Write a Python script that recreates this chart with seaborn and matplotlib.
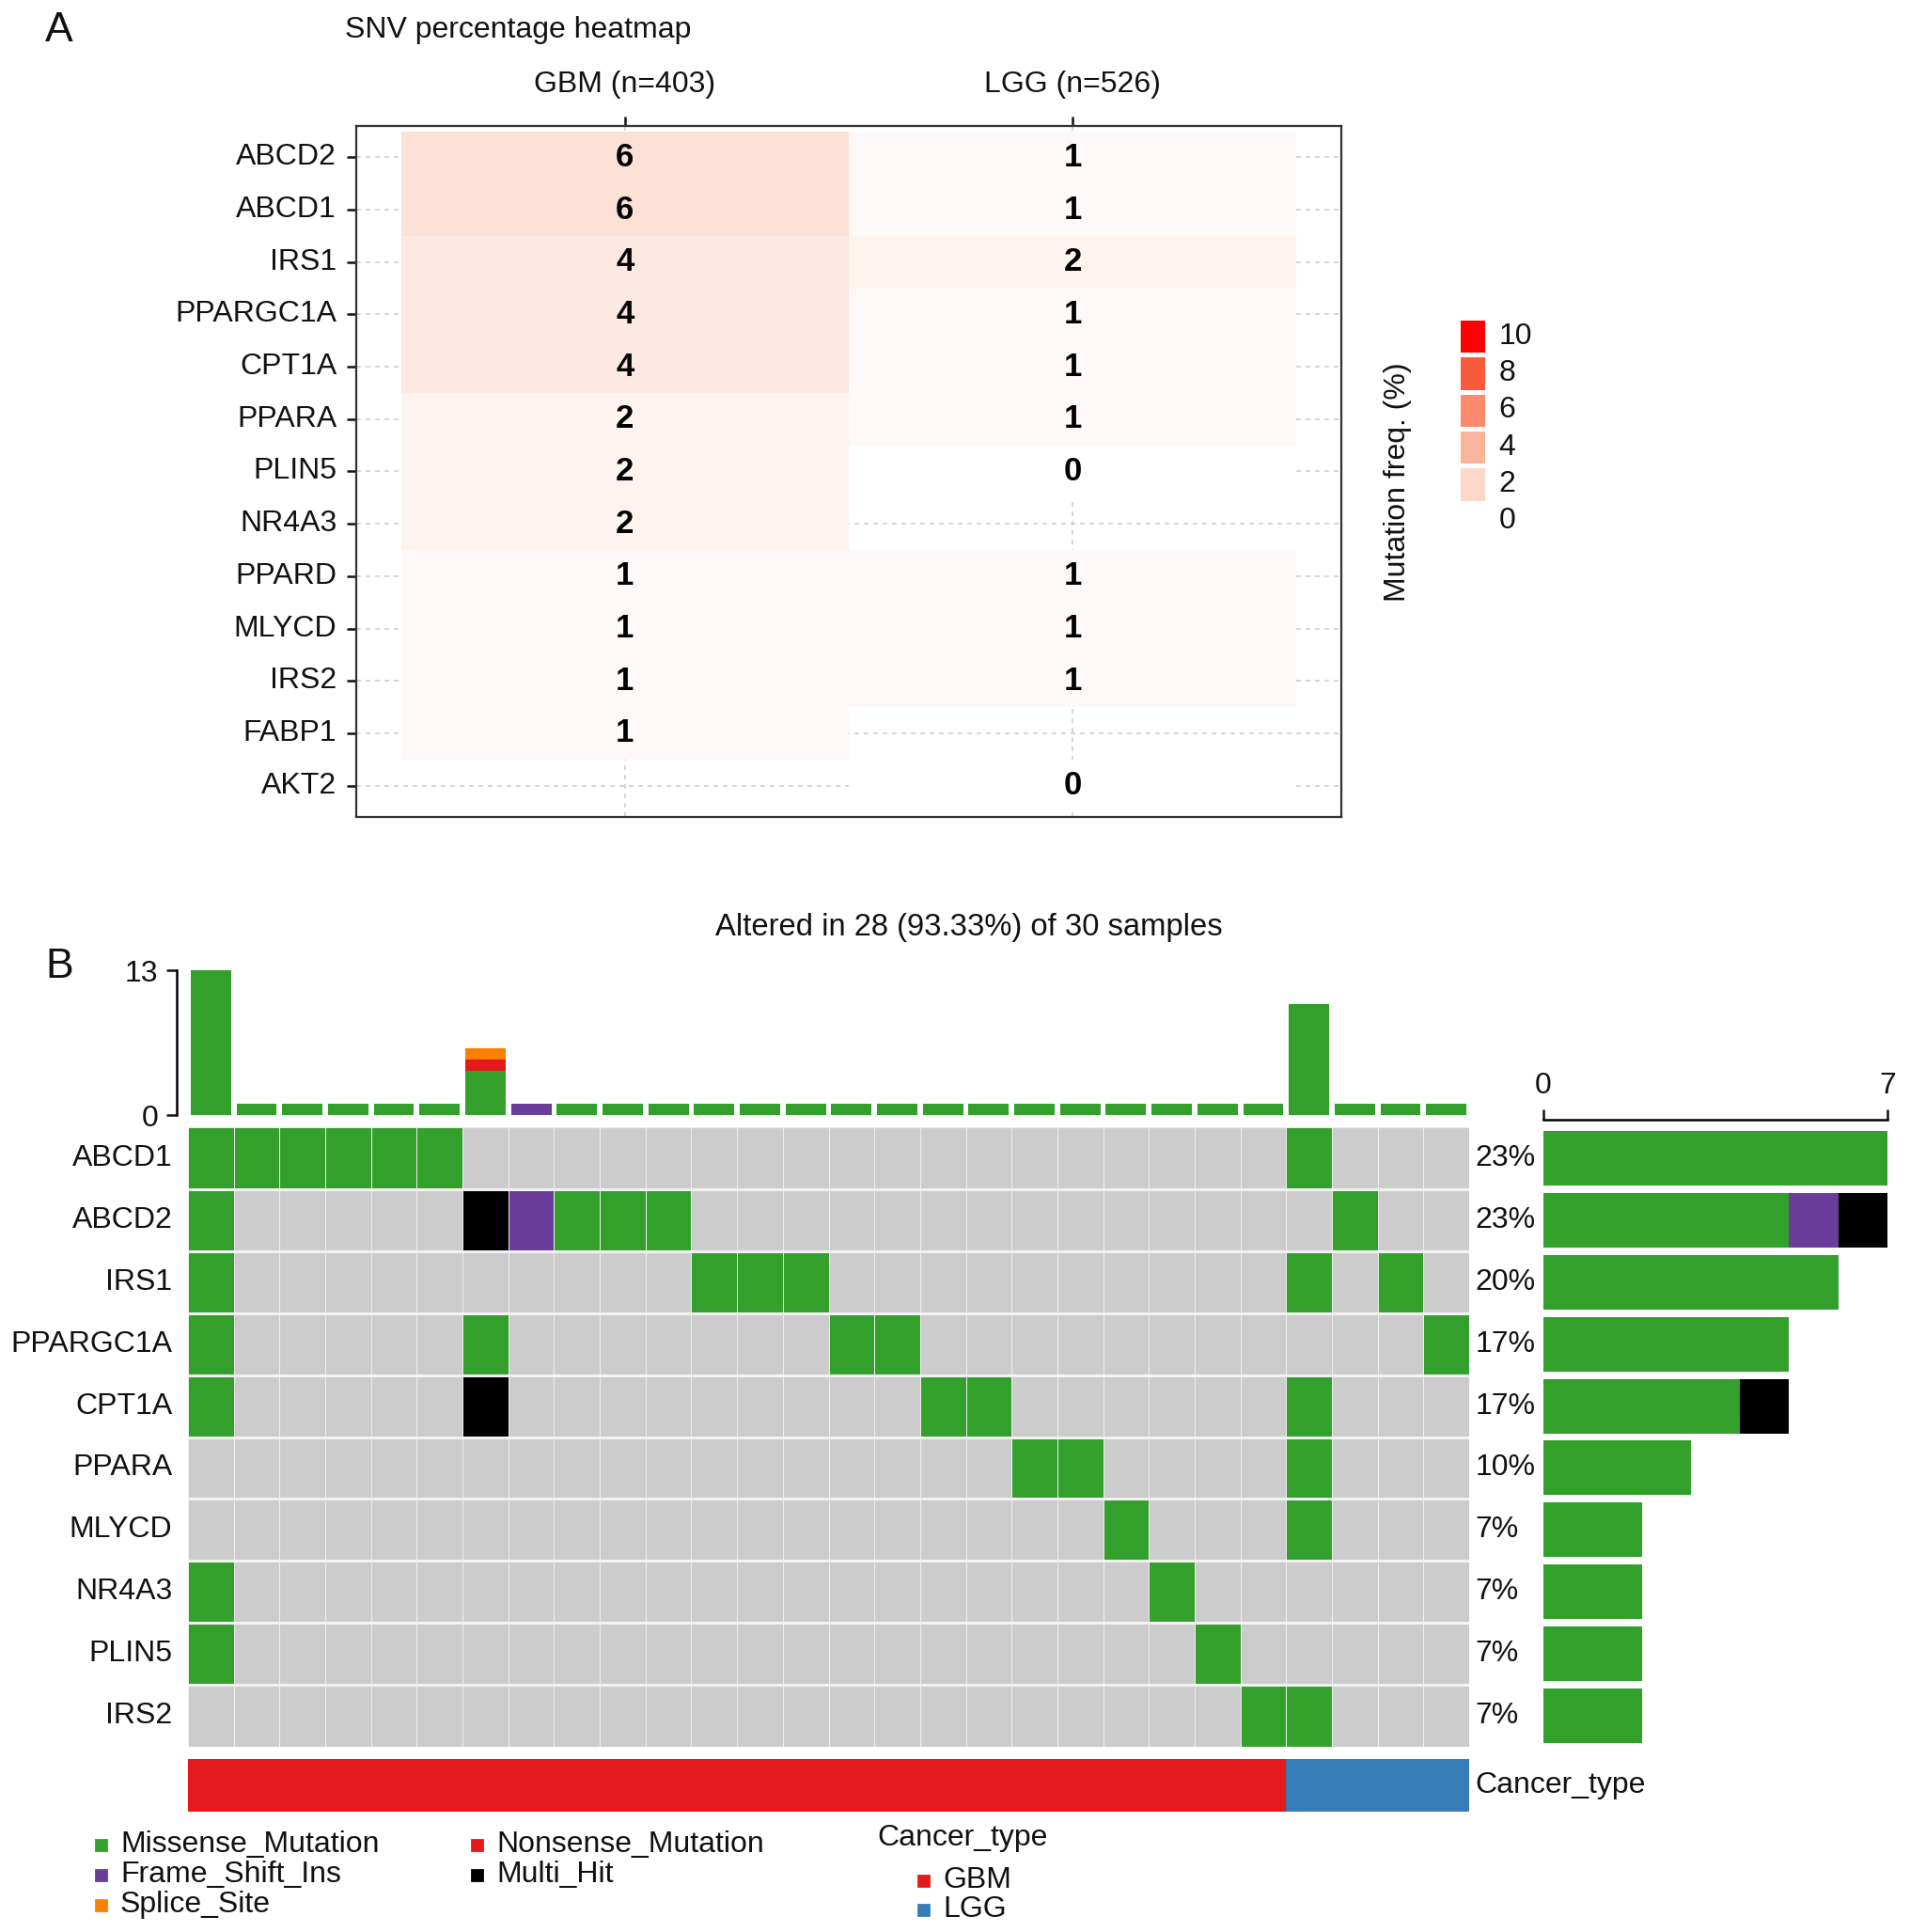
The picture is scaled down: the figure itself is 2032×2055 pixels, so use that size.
import numpy as np
import pandas as pd
import matplotlib
matplotlib.use("Agg")
import matplotlib.pyplot as plt
from matplotlib.colors import ListedColormap, LinearSegmentedColormap
from matplotlib.patches import Rectangle
import seaborn as sns

# ---------------- Panel A: SNV percentage heatmap ----------------
snv_genes = ["ABCD2", "ABCD1", "IRS1", "PPARGC1A", "CPT1A", "PPARA", "PLIN5",
             "NR4A3", "PPARD", "MLYCD", "IRS2", "FABP1", "AKT2"]
cohorts = ["GBM (n=403)", "LGG (n=526)"]
gbm_freq = [6, 6, 4, 4, 4, 2, 2, 2, 1, 1, 1, 1, np.nan]
lgg_freq = [1, 1, 2, 1, 1, 1, 0, np.nan, 1, 1, 1, np.nan, 0]
legend_vals = [10, 8, 6, 4, 2, 0]

# ---------------- Panel B: oncoplot ----------------
onco_genes = ["ABCD1", "ABCD2", "IRS1", "PPARGC1A", "CPT1A",
              "PPARA", "MLYCD", "NR4A3", "PLIN5", "IRS2"]
# one character per sample: . none, M missense, F frame shift ins, H multi hit
onco_calls = [
    "MMMMMM. ....... ....... ...M...",
    "M.....H FMMM... ....... ....M..",
    "M...... ....MMM ....... ...M.M.",
    "M.....M ....... MM..... ......M",
    "M.....H ....... ..MM... ...M...",
    "....... ....... ....MM. ...M...",
    "....... ....... ......M ...M...",
    "M...... ....... ....... M......",
    "M...... ....... ....... .M.....",
    "....... ....... ....... ..MM...",
]
sample_type = ["GBM"] * 24 + ["LGG"] * 4
sample_missense = [13, 1, 1, 1, 1, 1, 4, 0, 1, 1, 1, 1, 1, 1,
                   1, 1, 1, 1, 1, 1, 1, 1, 1, 1, 10, 1, 1, 1]
sample_fsi = [0, 0, 0, 0, 0, 0, 0, 1, 0, 0, 0, 0, 0, 0,
              0, 0, 0, 0, 0, 0, 0, 0, 0, 0, 0, 0, 0, 0]
sample_nonsense = [0, 0, 0, 0, 0, 0, 1, 0, 0, 0, 0, 0, 0, 0,
                   0, 0, 0, 0, 0, 0, 0, 0, 0, 0, 0, 0, 0, 0]
sample_splice = [0, 0, 0, 0, 0, 0, 1, 0, 0, 0, 0, 0, 0, 0,
                 0, 0, 0, 0, 0, 0, 0, 0, 0, 0, 0, 0, 0, 0]
gene_missense = [7, 5, 6, 5, 4, 3, 2, 2, 2, 2]
gene_fsi = [0, 1, 0, 0, 0, 0, 0, 0, 0, 0]
gene_multi = [0, 1, 0, 0, 1, 0, 0, 0, 0, 0]
n_samples = 30

GREEN, PURPLE, BLACK = "#33A02C", "#6A3D9A", "#000000"
RED, ORANGE, GREY = "#E31A1C", "#FF7F00", "#CCCCCC"
GBM_COL, LGG_COL = "#E41A1C", "#377EB8"

sns.set_style("white")
plt.rcParams["font.family"] = ["Liberation Sans", "DejaVu Sans"]
plt.rcParams["text.color"] = "#111111"
plt.rcParams["xtick.color"] = "#111111"
plt.rcParams["ytick.color"] = "#111111"

W, H = 2032, 2055
fig = plt.figure(figsize=(W / 200, H / 200), dpi=200)


def box(x0, y0, x1, y1):
    # pixel box (top-left origin) -> figure rect
    return [x0 / W, 1 - y1 / H, (x1 - x0) / W, (y1 - y0) / H]


FS = 11.5

# ---- heatmap
ax = fig.add_axes(box(379, 134, 1427, 869))
snv = pd.DataFrame({cohorts[0]: gbm_freq, cohorts[1]: lgg_freq}, index=snv_genes)
tile_cmap = LinearSegmentedColormap.from_list(
    "snv", [(0, "#FFFFFF"), (0.1, "#FFF8F9"), (0.2, "#FEF3EF"),
            (0.4, "#FDE9E1"), (0.6, "#FCE1D6"), (1.0, "#F9B9A3")])
sns.heatmap(snv, ax=ax, cmap=tile_cmap, vmin=0, vmax=10, cbar=False,
            annot=True, fmt=".0f",
            annot_kws=dict(fontsize=12.5, fontweight="bold", color="black"))
ax.set_xlim(-0.1, 2.1)
ax.set_ylim(13.1, -0.1)
ax.grid(True, color="#CFCFCF", lw=0.6, ls=(0, (3, 3)))
ax.set_axisbelow(True)
for s in ax.spines.values():
    s.set_visible(True)
    s.set_color("#333333")
    s.set_linewidth(0.8)
ax.xaxis.tick_top()
ax.tick_params(axis="x", top=True, bottom=False, labeltop=True, labelbottom=False,
               length=3.5, width=0.9, pad=7, labelsize=FS, labelrotation=0)
ax.tick_params(axis="y", left=True, length=3.5, width=0.9, pad=4,
               labelsize=FS, labelrotation=0)
ax.set_xlabel("")
ax.set_ylabel("")

# ---- stepped legend for panel A
lax = fig.add_axes(box(1551, 338, 1582, 574))
key_cmap = ListedColormap(["#FFFFFF", "#FDD7CA", "#FCB39B", "#FC8B6E", "#FA5A3C", "#FF0000"])
sns.heatmap(pd.DataFrame({"v": legend_vals}), ax=lax, cmap=key_cmap, vmin=-1, vmax=11,
            cbar=False, linewidths=1.2, linecolor="white",
            xticklabels=False, yticklabels=False)
for i, v in enumerate(legend_vals):
    lax.text(1.4, i + 0.5, str(v), va="center", ha="left", fontsize=FS)
fig.text(1487 / W, 1 - 513 / H, "Mutation freq. (%)", rotation=90,
         ha="center", va="center", fontsize=FS)

fig.text(367 / W, 1 - 32 / H, "SNV percentage heatmap", ha="left", va="center", fontsize=FS)
fig.text(63 / W, 1 - 33 / H, "A", ha="center", va="center", fontsize=16)

# ---- oncoplot grid
calls = [row.replace(" ", "") for row in onco_calls]
mut_codes = {".": 0, "M": 1, "F": 2, "H": 3}
grid = pd.DataFrame([[mut_codes[c] for c in row] for row in calls], index=onco_genes)
gax = fig.add_axes(box(200, 1199, 1563, 1858))
sns.heatmap(grid, ax=gax, cmap=ListedColormap([GREY, GREEN, PURPLE, BLACK]),
            vmin=-0.5, vmax=3.5, cbar=False, linewidths=0.25, linecolor="#EDEDED",
            xticklabels=False)
for y in range(1, len(onco_genes)):
    gax.axhline(y, color="#F2F2F2", lw=1.1)
gax.tick_params(axis="y", length=0, pad=6, labelsize=FS, labelrotation=0)
gax.set_xlabel("")
gax.set_ylabel("")
for i, row in enumerate(calls):
    n_mut = sum(c != "." for c in row)
    gax.text(1.005, i + 0.5, f"{round(100 * n_mut / n_samples)}%",
             transform=gax.get_yaxis_transform(), va="center", ha="left", fontsize=FS)

# ---- top stacked bars (per sample)
tax = fig.add_axes(box(200, 1032, 1563, 1186))
samples = np.arange(len(sample_missense))
cum1 = np.array(sample_missense)
cum2 = cum1 + np.array(sample_fsi)
cum3 = cum2 + np.array(sample_nonsense)
cum4 = cum3 + np.array(sample_splice)
for heights, col in [(cum4, ORANGE), (cum3, RED), (cum2, PURPLE), (cum1, GREEN)]:
    sns.barplot(x=samples, y=heights, ax=tax, color=col, width=0.88,
                saturation=1, linewidth=0, errorbar=None)
tax.set_xlim(-0.5, len(samples) - 0.5)
tax.set_ylim(0, 13)
for k in ["top", "right", "bottom"]:
    tax.spines[k].set_visible(False)
tax.spines["left"].set_position(("outward", 4.3))
tax.spines["left"].set_linewidth(0.9)
tax.spines["left"].set_color("black")
tax.set_xticks([])
tax.set_yticks([0, 13])
tax.tick_params(axis="y", left=True, length=4, width=0.9, pad=3, labelsize=FS)
tax.set_xlabel("")
tax.set_ylabel("")
fig.text(1031 / W, 1 - 986 / H, "Altered in 28 (93.33%) of 30 samples",
         ha="center", va="center", fontsize=11.8)
fig.text(63 / W, 1 - 1029 / H, "B", ha="center", va="center", fontsize=16)

# ---- right stacked bars (per gene)
rax = fig.add_axes(box(1642, 1199, 2008, 1858))
gidx = np.arange(len(onco_genes))
r1 = np.array(gene_missense)
r2 = r1 + np.array(gene_fsi)
r3 = r2 + np.array(gene_multi)
for widths, col in [(r3, BLACK), (r2, PURPLE), (r1, GREEN)]:
    sns.barplot(x=widths, y=gidx, orient="h", ax=rax, color=col, width=0.88,
                saturation=1, linewidth=0, errorbar=None)
rax.set_xlim(0, 7)
rax.set_ylim(len(onco_genes) - 0.5, -0.5)
for k in ["bottom", "right", "left"]:
    rax.spines[k].set_visible(False)
rax.spines["top"].set_position(("outward", 3))
rax.spines["top"].set_linewidth(0.9)
rax.spines["top"].set_color("black")
rax.xaxis.tick_top()
rax.set_xticks([0, 7])
rax.set_yticks([])
rax.tick_params(axis="x", top=True, bottom=False, length=4, width=0.9, pad=3.5, labelsize=FS)
rax.set_xlabel("")
rax.set_ylabel("")

# ---- cancer type annotation bar
cax = fig.add_axes(box(200, 1871, 1563, 1927))
ct_codes = [["GBM", "LGG"].index(t) for t in sample_type]
sns.heatmap(pd.DataFrame([ct_codes]), ax=cax, cmap=ListedColormap([GBM_COL, LGG_COL]),
            vmin=-0.5, vmax=1.5, cbar=False, xticklabels=False, yticklabels=False)
cax.text(1.005, 0.5, "Cancer_type", transform=cax.transAxes, va="center", ha="left", fontsize=FS)

# ---- legends
def key(x, y, col, label, size=11):
    fig.patches.append(Rectangle((x / W, 1 - (y + size / 2) / H), size / W, size / H,
                                 transform=fig.transFigure, color=col, figure=fig))
    fig.text((x + 26) / W, 1 - y / H, label, va="center", ha="left", fontsize=FS)


mut_legend = [("Missense_Mutation", GREEN), ("Frame_Shift_Ins", PURPLE),
              ("Splice_Site", ORANGE), ("Nonsense_Mutation", RED), ("Multi_Hit", BLACK)]
col_x = [102, 502]
row_y = [1962, 1994, 2026]
for j, (label, col) in enumerate(mut_legend):
    key(col_x[j // 3], row_y[j % 3], col, label)

fig.text(933 / W, 1 - 1955 / H, "Cancer_type", va="center", ha="left", fontsize=FS)
for j, (label, col) in enumerate([("GBM", GBM_COL), ("LGG", LGG_COL)]):
    key(977, [2000, 2031][j], col, label)

fig.savefig("out.png", dpi=200)
